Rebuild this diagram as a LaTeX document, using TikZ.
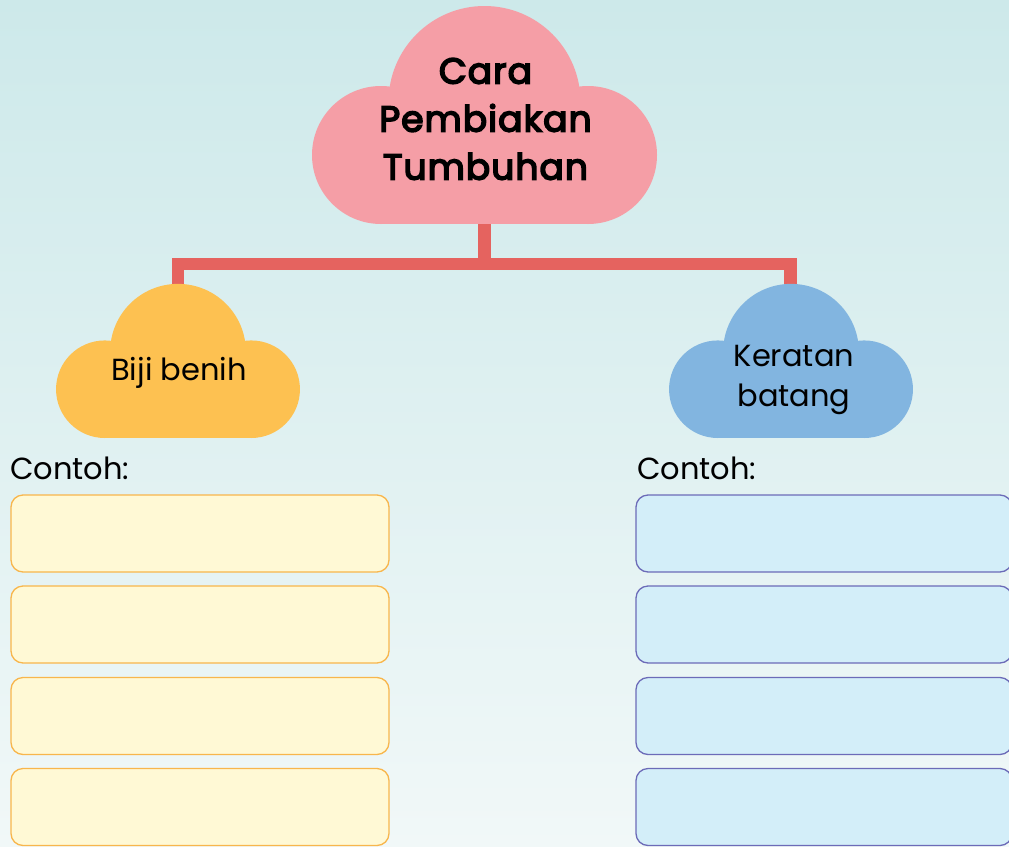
\documentclass[tikz,border=0pt]{standalone}
\usepackage{fontspec}
\setmainfont{Poppins}
\newfontfamily\titlefont[FakeBold=4.5,LetterSpace=3]{Poppins}
\definecolor{bgtop}{HTML}{CDE9EA}
\definecolor{bgbot}{HTML}{F1F8F8}
\definecolor{pinkc}{HTML}{F59EA6}
\definecolor{yellowc}{HTML}{FDC151}
\definecolor{bluec}{HTML}{82B5E0}
\definecolor{connc}{HTML}{E5635F}
\definecolor{yfill}{HTML}{FFF9D5}
\definecolor{ydraw}{HTML}{F8B64C}
\definecolor{bfill}{HTML}{D3EEF9}
\definecolor{bdraw}{HTML}{6C6BB8}
\newcommand{\mycloud}[4]{% cx, bottom y, scale, colour
  \fill[#4] ({#1},{#2-122*#3}) circle ({96*#3});
  \fill[#4] ({#1-103.5*#3},{#2-69*#3}) circle ({69*#3});
  \fill[#4] ({#1+103.5*#3},{#2-69*#3}) circle ({69*#3});
  \fill[#4] ({#1-103.5*#3},{#2-69*#3}) rectangle ({#1+103.5*#3},{#2});
}
\begin{document}
\begin{tikzpicture}[x=1pt,y=-1pt,
  conn/.style={draw=connc,line width=12.5pt,line join=miter},
  ybox/.style={draw=ydraw,fill=yfill,line width=1.3pt,rounded corners=12pt,
    minimum width=378pt,minimum height=77pt,inner sep=0pt},
  bbox/.style={draw=bdraw,fill=bfill,line width=1.3pt,rounded corners=12pt,
    minimum width=376pt,minimum height=77pt,inner sep=0pt},
  cloudtxt/.style={align=center,inner sep=0pt,text=black},
  contoh/.style={anchor=base west,inner sep=0pt,font=\fontsize{30.5}{36}\selectfont}]
\useasboundingbox (0,0) rectangle (1009,846);
\shade[top color=bgtop,bottom color=bgbot] (0,0) rectangle (1009,846);
% anchor coordinates
\coordinate (tb) at (484.5,220);
\coordinate (lb) at (178,300);
\coordinate (rb) at (790.5,300);
\coordinate (bar) at (0,264);
% connectors
\draw[conn] (tb) -- (tb|-bar);
\draw[conn] (lb) -- (lb|-bar) -- (rb|-bar) -- (rb);
% clouds
\mycloud{484.5}{224}{1}{pinkc}
\mycloud{178}{438}{0.707}{yellowc}
\mycloud{791}{438}{0.707}{bluec}
% cloud texts
\node[cloudtxt,font=\titlefont\fontsize{36}{48}\selectfont] (top) at (485.5,119) {Cara\\Pembiakan\\Tumbuhan};
\node[cloudtxt,font=\fontsize{30.5}{40}\selectfont] (left) at (179,373) {Biji benih};
\node[cloudtxt,font=\fontsize{30.5}{40}\selectfont] (right) at (794,380) {Keratan\\batang};
% labels
\node[contoh] (cl) at (10,479) {Contoh:};
\node[contoh] (cr) at (637,479) {Contoh:};
% boxes
\node[ybox] (y1) at (200,533.5) {};
\node[ybox] (y2) at (200,624.5) {};
\node[ybox] (y3) at (200,716) {};
\node[ybox] (y4) at (200,807) {};
\node[bbox] (b1) at (824,533.5) {};
\node[bbox] (b2) at (824,624.5) {};
\node[bbox] (b3) at (824,716) {};
\node[bbox] (b4) at (824,807) {};
\end{tikzpicture}
\end{document}
